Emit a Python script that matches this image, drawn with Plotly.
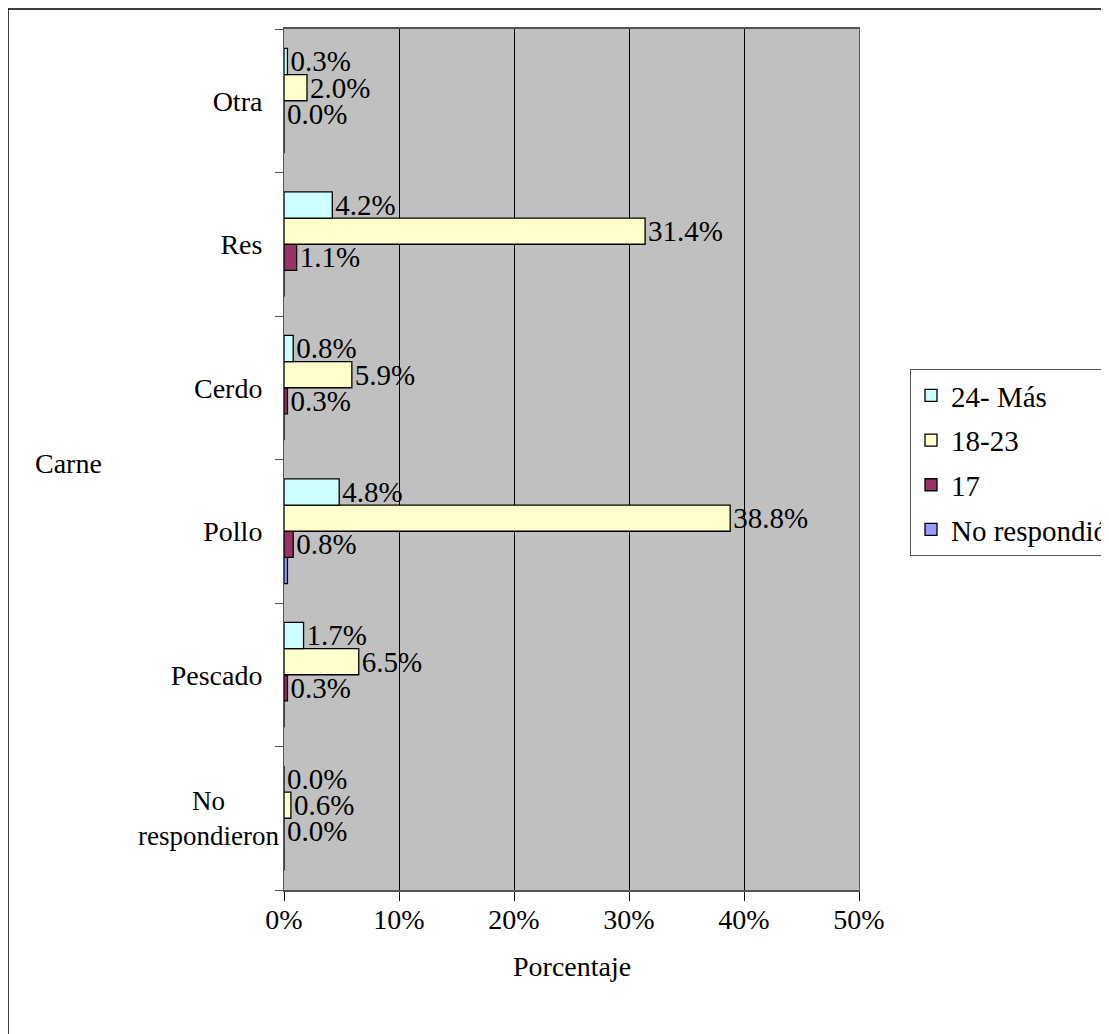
"""Consumo de carne por grupo de edad - barras horizontales agrupadas."""

import plotly.graph_objects as go

categories = ["No respondieron", "Pescado", "Pollo", "Cerdo", "Res", "Otra"]
tick_labels = ["", "Pescado", "Pollo", "Cerdo", "Res", "Otra"]

series_names = ["24- Más", "18-23", "17", "No respondió"]
values_24_mas = [0.0, 1.7, 4.8, 0.8, 4.2, 0.3]
values_18_23 = [0.6, 6.5, 38.8, 5.9, 31.4, 2.0]
values_17 = [0.0, 0.3, 0.8, 0.3, 1.1, 0.0]
values_no_resp = [0.0, 0.0, 0.3, 0.0, 0.0, 0.0]

x_ticks = [0, 10, 20, 30, 40, 50]

FONT = "Liberation Serif"
FS = 28

# page offset of the html body (default 8px margin)
OFF = 8
W, H = 1109, 1034
# plot area in page pixels, converted to figure pixels
L, R, T, B = 284 - OFF, 859 - OFF, 29 - OFF, 890 - OFF
PW, PH = R - L, B - T


def px_x(x):
    return (x - OFF - L) / PW


def px_y(y):
    return (B - (y - OFF)) / PH


fig = go.Figure()

# added bottom-to-top within each group; legendrank keeps legend top-down
series = [
    (series_names[3], values_no_resp, "#9999FF", False, 4),
    (series_names[2], values_17, "#993366", True, 3),
    (series_names[1], values_18_23, "#FFFFCC", True, 2),
    (series_names[0], values_24_mas, "#CCFFFF", True, 1),
]

for name, vals, color, labelled, rank in series:
    fig.add_trace(
        go.Bar(
            name=name,
            y=categories,
            x=vals,
            orientation="h",
            marker={"color": color, "line": {"color": "black", "width": 1.3}},
            text=[f"{v:.1f}%" for v in vals] if labelled else None,
            textposition="outside",
            textfont={"family": FONT, "size": 29, "color": "black"},
            constraintext="none",
            cliponaxis=False,
            legendgroup=name,
            legendrank=rank,
        )
    )

fig.update_layout(
    width=W,
    height=H,
    autosize=False,
    margin={"l": L, "r": W - R, "t": T, "b": H - B, "pad": 0, "autoexpand": False},
    paper_bgcolor="white",
    plot_bgcolor="#C0C0C0",
    barmode="group",
    bargap=0.27,
    bargroupgap=0,
    font={"family": FONT, "size": FS, "color": "black"},
    showlegend=True,
    legend={
        "x": px_x(910),
        "y": px_y(369),
        "xanchor": "left",
        "yanchor": "top",
        "traceorder": "grouped",
        "bgcolor": "white",
        "bordercolor": "#555555",
        "borderwidth": 1,
        "font": {"family": FONT, "size": 29, "color": "black"},
        "tracegroupgap": 4,
    },
    xaxis={
        "range": [0, 50],
        "tickvals": x_ticks,
        "ticktext": [f"{t}%" for t in x_ticks],
        "showgrid": True,
        "gridcolor": "black",
        "gridwidth": 1,
        "zeroline": False,
        "showline": True,
        "linecolor": "#555555",
        "linewidth": 2,
        "mirror": True,
        "ticks": "outside",
        "ticklen": 9,
        "tickcolor": "black",
        "ticklabelstandoff": -6,
        "tickfont": {"family": FONT, "size": FS, "color": "black"},
        "fixedrange": True,
    },
    yaxis={
        "categoryorder": "array",
        "categoryarray": categories,
        "tickvals": categories,
        "ticktext": tick_labels,
        "tickson": "boundaries",
        "ticks": "outside",
        "ticklen": 8,
        "tickcolor": "#555555",
        "showgrid": False,
        "showline": True,
        "linecolor": "#555555",
        "linewidth": 1,
        "mirror": True,
        "ticklabelstandoff": 15,
        "tickfont": {"family": FONT, "size": FS, "color": "black"},
        "fixedrange": True,
    },
)

# two-line category label, centered like the original
fig.add_annotation(
    text="No<br>respondieron",
    x=px_x(208),
    y=categories[0],
    xref="paper",
    yref="y",
    xanchor="center",
    yanchor="middle",
    showarrow=False,
    font={"family": FONT, "size": 27},
    align="center",
)

fig.add_annotation(
    text="Carne",
    x=px_x(33),
    y=px_y(463),
    xref="paper",
    yref="paper",
    xanchor="left",
    yanchor="middle",
    showarrow=False,
    font={"family": FONT, "size": FS},
)

fig.add_annotation(
    text="Porcentaje",
    x=0.5,
    y=px_y(967),
    xref="paper",
    yref="paper",
    xanchor="center",
    yanchor="middle",
    showarrow=False,
    font={"family": FONT, "size": FS},
)

# outer chart border (right and bottom edges fall outside the page)
fig.add_shape(
    type="rect",
    xref="paper",
    yref="paper",
    x0=px_x(8),
    y0=px_y(1045),
    x1=px_x(1125),
    y1=px_y(9),
    line={"color": "black", "width": 1.5},
    layer="below",
)

fig.write_html("out.html")
